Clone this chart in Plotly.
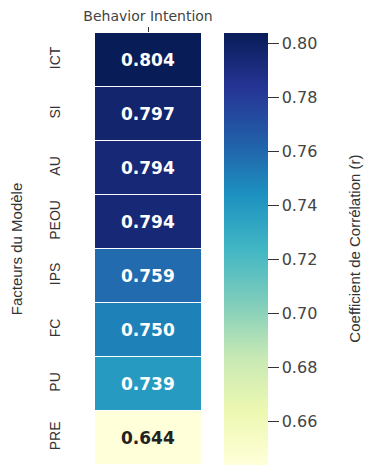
import plotly.graph_objects as go

factors = ["ICT", "SI", "AU", "PEOU", "IPS", "FC", "PU", "PRE"]
target = ["Behavior Intention"]
corr = [0.804, 0.797, 0.794, 0.794, 0.759, 0.750, 0.739, 0.644]
cbar_ticks = [0.66, 0.68, 0.70, 0.72, 0.74, 0.76, 0.78, 0.80]
cbar_title = "Coefficient de Corrélation (r)"

ylgnbu = ["#ffffd9", "#edf8b1", "#c7e9b4", "#7fcdbb", "#41b6c4",
          "#1d91c0", "#225ea8", "#253494", "#081d58"]
cscale = [[i / (len(ylgnbu) - 1), c] for i, c in enumerate(ylgnbu)]

zmin, zmax = min(corr), max(corr)

fig = go.Figure(go.Heatmap(
    z=[[v] for v in corr],
    x=target,
    y=factors,
    colorscale=cscale,
    zmin=zmin, zmax=zmax,
    ygap=1,
    hoverinfo="skip",
    colorbar=dict(
        x=1.217, xanchor="left", xpad=0,
        y=0.5, yanchor="middle", ypad=0,
        len=432, lenmode="pixels",
        thickness=44,
        outlinewidth=0,
        tickvals=cbar_ticks,
        tickformat=".2f",
        tickprefix="\u00a0",
        ticks="outside", ticklen=11, tickwidth=1.3, tickcolor="#333",
        tickfont=dict(family="DejaVu Sans", size=16, color="#444"),
    ),
))

mid = (zmin + zmax) / 2
for f, v in zip(factors, corr):
    fig.add_annotation(
        x=target[0], y=f, text=f"{v:.3f}", showarrow=False,
        font=dict(family="DejaVu Sans", size=17, weight="bold",
                  color="white" if v > mid else "#222"),
    )

fig.add_annotation(
    xref="paper", yref="paper", x=2.44, y=0.5, text=cbar_title,
    textangle=-90, showarrow=False, xanchor="center", yanchor="middle",
    font=dict(family="Liberation Sans Narrow, Liberation Sans", size=15, color="#333"),
)

# page body has an 8px margin; size the figure so it fits the window exactly
fig.update_layout(
    width=366, height=458,
    margin=dict(l=87, r=173, t=25, b=1, autoexpand=False),
    plot_bgcolor="white", paper_bgcolor="white",
    showlegend=False,
)
fig.update_xaxes(
    side="top", ticks="outside", ticklen=5, tickcolor="#333",
    automargin=False,
    tickfont=dict(family="DejaVu Sans", size=14, color="#444"),
    showgrid=False, zeroline=False, showline=False,
)
fig.update_yaxes(
    autorange="reversed", tickangle=-90,
    ticks="", ticklabelstandoff=31, automargin=False,
    tickfont=dict(family="Liberation Sans Narrow, Liberation Sans", size=14, color="#333"),
    title=dict(text="Facteurs du Modèle", standoff=24,
               font=dict(family="Liberation Sans Narrow, Liberation Sans", size=15, color="#333")),
    showgrid=False, zeroline=False, showline=False,
)

fig.write_html("out.html")
